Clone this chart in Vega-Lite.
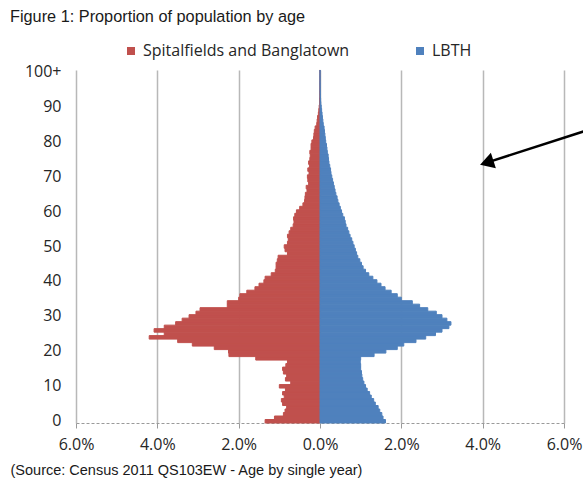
{
  "$schema": "https://vega.github.io/schema/vega-lite/v6.json",
  "width": 488,
  "height": 353,
  "autosize": {"type": "none"},
  "padding": {"left": 76, "top": 70, "right": 19, "bottom": 64},
  "background": "white",
  "title": {
    "text": "Figure 1: Proportion of population by age",
    "anchor": "start",
    "frame": "group",
    "dx": -66,
    "dy": -14,
    "font": "Liberation Sans",
    "fontSize": 16.3,
    "fontWeight": "normal",
    "color": "#1a1a1a"
  },
  "config": {"view": {"stroke": null}},
  "datasets": {
    "pyr": [
      {"age":0,"area":"Spitalfields and Banglatown","pct":-1.35},{"age":1,"area":"Spitalfields and Banglatown","pct":-1.12},{"age":2,"area":"Spitalfields and Banglatown","pct":-0.90},{"age":3,"area":"Spitalfields and Banglatown","pct":-0.86},{"age":4,"area":"Spitalfields and Banglatown","pct":-0.82},{"age":5,"area":"Spitalfields and Banglatown","pct":-0.92},{"age":6,"area":"Spitalfields and Banglatown","pct":-0.95},{"age":7,"area":"Spitalfields and Banglatown","pct":-0.88},{"age":8,"area":"Spitalfields and Banglatown","pct":-0.92},{"age":9,"area":"Spitalfields and Banglatown","pct":-0.85},
      {"age":10,"area":"Spitalfields and Banglatown","pct":-1.00},{"age":11,"area":"Spitalfields and Banglatown","pct":-0.72},{"age":12,"area":"Spitalfields and Banglatown","pct":-0.85},{"age":13,"area":"Spitalfields and Banglatown","pct":-0.82},{"age":14,"area":"Spitalfields and Banglatown","pct":-0.90},{"age":15,"area":"Spitalfields and Banglatown","pct":-0.92},{"age":16,"area":"Spitalfields and Banglatown","pct":-0.84},{"age":17,"area":"Spitalfields and Banglatown","pct":-0.80},{"age":18,"area":"Spitalfields and Banglatown","pct":-1.58},{"age":19,"area":"Spitalfields and Banglatown","pct":-2.24},
      {"age":20,"area":"Spitalfields and Banglatown","pct":-2.25},{"age":21,"area":"Spitalfields and Banglatown","pct":-2.60},{"age":22,"area":"Spitalfields and Banglatown","pct":-3.14},{"age":23,"area":"Spitalfields and Banglatown","pct":-3.50},{"age":24,"area":"Spitalfields and Banglatown","pct":-4.20},{"age":25,"area":"Spitalfields and Banglatown","pct":-3.83},{"age":26,"area":"Spitalfields and Banglatown","pct":-4.08},{"age":27,"area":"Spitalfields and Banglatown","pct":-3.83},{"age":28,"area":"Spitalfields and Banglatown","pct":-3.55},{"age":29,"area":"Spitalfields and Banglatown","pct":-3.39},
      {"age":30,"area":"Spitalfields and Banglatown","pct":-3.22},{"age":31,"area":"Spitalfields and Banglatown","pct":-3.05},{"age":32,"area":"Spitalfields and Banglatown","pct":-2.95},{"age":33,"area":"Spitalfields and Banglatown","pct":-2.28},{"age":34,"area":"Spitalfields and Banglatown","pct":-2.28},{"age":35,"area":"Spitalfields and Banglatown","pct":-2.00},{"age":36,"area":"Spitalfields and Banglatown","pct":-1.97},{"age":37,"area":"Spitalfields and Banglatown","pct":-1.80},{"age":38,"area":"Spitalfields and Banglatown","pct":-1.60},{"age":39,"area":"Spitalfields and Banglatown","pct":-1.50},
      {"age":40,"area":"Spitalfields and Banglatown","pct":-1.38},{"age":41,"area":"Spitalfields and Banglatown","pct":-1.35},{"age":42,"area":"Spitalfields and Banglatown","pct":-1.20},{"age":43,"area":"Spitalfields and Banglatown","pct":-1.10},{"age":44,"area":"Spitalfields and Banglatown","pct":-1.08},{"age":45,"area":"Spitalfields and Banglatown","pct":-1.08},{"age":46,"area":"Spitalfields and Banglatown","pct":-1.05},{"age":47,"area":"Spitalfields and Banglatown","pct":-1.03},{"age":48,"area":"Spitalfields and Banglatown","pct":-0.80},{"age":49,"area":"Spitalfields and Banglatown","pct":-0.86},
      {"age":50,"area":"Spitalfields and Banglatown","pct":-0.88},{"age":51,"area":"Spitalfields and Banglatown","pct":-0.80},{"age":52,"area":"Spitalfields and Banglatown","pct":-0.78},{"age":53,"area":"Spitalfields and Banglatown","pct":-0.80},{"age":54,"area":"Spitalfields and Banglatown","pct":-0.76},{"age":55,"area":"Spitalfields and Banglatown","pct":-0.72},{"age":56,"area":"Spitalfields and Banglatown","pct":-0.66},{"age":57,"area":"Spitalfields and Banglatown","pct":-0.64},{"age":58,"area":"Spitalfields and Banglatown","pct":-0.65},{"age":59,"area":"Spitalfields and Banglatown","pct":-0.62},
      {"age":60,"area":"Spitalfields and Banglatown","pct":-0.58},{"age":61,"area":"Spitalfields and Banglatown","pct":-0.50},{"age":62,"area":"Spitalfields and Banglatown","pct":-0.42},{"age":63,"area":"Spitalfields and Banglatown","pct":-0.38},{"age":64,"area":"Spitalfields and Banglatown","pct":-0.37},{"age":65,"area":"Spitalfields and Banglatown","pct":-0.36},{"age":66,"area":"Spitalfields and Banglatown","pct":-0.32},{"age":67,"area":"Spitalfields and Banglatown","pct":-0.34},{"age":68,"area":"Spitalfields and Banglatown","pct":-0.28},{"age":69,"area":"Spitalfields and Banglatown","pct":-0.30},
      {"age":70,"area":"Spitalfields and Banglatown","pct":-0.31},{"age":71,"area":"Spitalfields and Banglatown","pct":-0.27},{"age":72,"area":"Spitalfields and Banglatown","pct":-0.30},{"age":73,"area":"Spitalfields and Banglatown","pct":-0.26},{"age":74,"area":"Spitalfields and Banglatown","pct":-0.28},{"age":75,"area":"Spitalfields and Banglatown","pct":-0.25},{"age":76,"area":"Spitalfields and Banglatown","pct":-0.24},{"age":77,"area":"Spitalfields and Banglatown","pct":-0.25},{"age":78,"area":"Spitalfields and Banglatown","pct":-0.22},{"age":79,"area":"Spitalfields and Banglatown","pct":-0.22},
      {"age":80,"area":"Spitalfields and Banglatown","pct":-0.20},{"age":81,"area":"Spitalfields and Banglatown","pct":-0.16},{"age":82,"area":"Spitalfields and Banglatown","pct":-0.15},{"age":83,"area":"Spitalfields and Banglatown","pct":-0.14},{"age":84,"area":"Spitalfields and Banglatown","pct":-0.12},{"age":85,"area":"Spitalfields and Banglatown","pct":-0.08},{"age":86,"area":"Spitalfields and Banglatown","pct":-0.07},{"age":87,"area":"Spitalfields and Banglatown","pct":-0.06},{"age":88,"area":"Spitalfields and Banglatown","pct":-0.04},{"age":89,"area":"Spitalfields and Banglatown","pct":-0.03},
      {"age":90,"area":"Spitalfields and Banglatown","pct":-0.02},{"age":91,"area":"Spitalfields and Banglatown","pct":-0.01},{"age":92,"area":"Spitalfields and Banglatown","pct":-0.01},{"age":93,"area":"Spitalfields and Banglatown","pct":-0.005},{"age":94,"area":"Spitalfields and Banglatown","pct":-0.005},{"age":95,"area":"Spitalfields and Banglatown","pct":-0.003},{"age":96,"area":"Spitalfields and Banglatown","pct":-0.002},{"age":97,"area":"Spitalfields and Banglatown","pct":-0.002},{"age":98,"area":"Spitalfields and Banglatown","pct":-0.001},{"age":99,"area":"Spitalfields and Banglatown","pct":-0.001},{"age":100,"area":"Spitalfields and Banglatown","pct":-0.002},
      {"age":0,"area":"LBTH","pct":1.61},{"age":1,"area":"LBTH","pct":1.55},{"age":2,"area":"LBTH","pct":1.52},{"age":3,"area":"LBTH","pct":1.47},{"age":4,"area":"LBTH","pct":1.43},{"age":5,"area":"LBTH","pct":1.36},{"age":6,"area":"LBTH","pct":1.32},{"age":7,"area":"LBTH","pct":1.26},{"age":8,"area":"LBTH","pct":1.22},{"age":9,"area":"LBTH","pct":1.16},
      {"age":10,"area":"LBTH","pct":1.12},{"age":11,"area":"LBTH","pct":1.08},{"age":12,"area":"LBTH","pct":1.05},{"age":13,"area":"LBTH","pct":1.03},{"age":14,"area":"LBTH","pct":1.02},{"age":15,"area":"LBTH","pct":1.00},{"age":16,"area":"LBTH","pct":1.00},{"age":17,"area":"LBTH","pct":0.99},{"age":18,"area":"LBTH","pct":1.00},{"age":19,"area":"LBTH","pct":1.33},
      {"age":20,"area":"LBTH","pct":1.62},{"age":21,"area":"LBTH","pct":1.90},{"age":22,"area":"LBTH","pct":2.06},{"age":23,"area":"LBTH","pct":2.36},{"age":24,"area":"LBTH","pct":2.60},{"age":25,"area":"LBTH","pct":2.84},{"age":26,"area":"LBTH","pct":3.00},{"age":27,"area":"LBTH","pct":3.17},{"age":28,"area":"LBTH","pct":3.22},{"age":29,"area":"LBTH","pct":3.12},
      {"age":30,"area":"LBTH","pct":3.00},{"age":31,"area":"LBTH","pct":2.86},{"age":32,"area":"LBTH","pct":2.65},{"age":33,"area":"LBTH","pct":2.45},{"age":34,"area":"LBTH","pct":2.27},{"age":35,"area":"LBTH","pct":2.00},{"age":36,"area":"LBTH","pct":1.90},{"age":37,"area":"LBTH","pct":1.75},{"age":38,"area":"LBTH","pct":1.60},{"age":39,"area":"LBTH","pct":1.50},
      {"age":40,"area":"LBTH","pct":1.40},{"age":41,"area":"LBTH","pct":1.30},{"age":42,"area":"LBTH","pct":1.20},{"age":43,"area":"LBTH","pct":1.12},{"age":44,"area":"LBTH","pct":1.06},{"age":45,"area":"LBTH","pct":1.02},{"age":46,"area":"LBTH","pct":0.98},{"age":47,"area":"LBTH","pct":0.93},{"age":48,"area":"LBTH","pct":0.90},{"age":49,"area":"LBTH","pct":0.87},
      {"age":50,"area":"LBTH","pct":0.84},{"age":51,"area":"LBTH","pct":0.81},{"age":52,"area":"LBTH","pct":0.78},{"age":53,"area":"LBTH","pct":0.74},{"age":54,"area":"LBTH","pct":0.71},{"age":55,"area":"LBTH","pct":0.68},{"age":56,"area":"LBTH","pct":0.64},{"age":57,"area":"LBTH","pct":0.62},{"age":58,"area":"LBTH","pct":0.60},{"age":59,"area":"LBTH","pct":0.56},
      {"age":60,"area":"LBTH","pct":0.53},{"age":61,"area":"LBTH","pct":0.50},{"age":62,"area":"LBTH","pct":0.47},{"age":63,"area":"LBTH","pct":0.44},{"age":64,"area":"LBTH","pct":0.42},{"age":65,"area":"LBTH","pct":0.39},{"age":66,"area":"LBTH","pct":0.37},{"age":67,"area":"LBTH","pct":0.35},{"age":68,"area":"LBTH","pct":0.33},{"age":69,"area":"LBTH","pct":0.31},
      {"age":70,"area":"LBTH","pct":0.29},{"age":71,"area":"LBTH","pct":0.27},{"age":72,"area":"LBTH","pct":0.26},{"age":73,"area":"LBTH","pct":0.24},{"age":74,"area":"LBTH","pct":0.22},{"age":75,"area":"LBTH","pct":0.21},{"age":76,"area":"LBTH","pct":0.20},{"age":77,"area":"LBTH","pct":0.18},{"age":78,"area":"LBTH","pct":0.17},{"age":79,"area":"LBTH","pct":0.16},
      {"age":80,"area":"LBTH","pct":0.14},{"age":81,"area":"LBTH","pct":0.13},{"age":82,"area":"LBTH","pct":0.12},{"age":83,"area":"LBTH","pct":0.11},{"age":84,"area":"LBTH","pct":0.10},{"age":85,"area":"LBTH","pct":0.08},{"age":86,"area":"LBTH","pct":0.07},{"age":87,"area":"LBTH","pct":0.06},{"age":88,"area":"LBTH","pct":0.05},{"age":89,"area":"LBTH","pct":0.04},
      {"age":90,"area":"LBTH","pct":0.03},{"age":91,"area":"LBTH","pct":0.02},{"age":92,"area":"LBTH","pct":0.015},{"age":93,"area":"LBTH","pct":0.01},{"age":94,"area":"LBTH","pct":0.008},{"age":95,"area":"LBTH","pct":0.005},{"age":96,"area":"LBTH","pct":0.004},{"age":97,"area":"LBTH","pct":0.003},{"age":98,"area":"LBTH","pct":0.002},{"age":99,"area":"LBTH","pct":0.001},{"age":100,"area":"LBTH","pct":0.002}
    ],
    "arrow": [{"age": 83, "age2": 74, "x": 6.5, "x2": 4.1}],
    "head": [{"age": 74, "x": 4.1}]
  },
  "layer": [
    {
      "data": {"name": "pyr"},
      "mark": {"type": "bar", "strokeWidth": 1},
      "encoding": {
        "y": {
          "field": "age",
          "type": "ordinal",
          "sort": "descending",
          "scale": {"paddingInner": 0, "paddingOuter": 0},
          "axis": {
            "values": [0, 10, 20, 30, 40, 50, 60, 70, 80, 90, 100],
            "labelExpr": "datum.value == 100 ? '100+' : datum.label",
            "ticks": false,
            "domain": false,
            "grid": false,
            "labelPadding": 15,
            "labelFont": "Open Sans",
            "labelFontSize": 16,
            "labelColor": "#262626",
            "title": null
          }
        },
        "x": {
          "field": "pct",
          "type": "quantitative",
          "stack": null,
          "scale": {"domain": [-6, 6], "nice": false, "zero": false},
          "axis": {
            "values": [-6, -4, -2, 0, 2, 4, 6],
            "labelExpr": "format(abs(datum.value), '.1f') + '%'",
            "labelFlush": false,
            "labelOverlap": false,
            "grid": true,
            "gridColor": "#B8B8B8",
            "gridWidth": 1.5,
            "domainColor": "#9A9A9A",
            "domainDash": [3, 2],
            "tickColor": "#9A9A9A",
            "tickSize": 5,
            "labelPadding": 8,
            "labelFont": "Open Sans",
            "labelFontSize": 16,
            "labelColor": "#262626",
            "title": "(Source: Census 2011 QS103EW - Age by single year)",
            "titleFont": "Liberation Sans",
            "titleFontSize": 14.5,
            "titleFontWeight": "normal",
            "titleColor": "#1a1a1a",
            "titleAlign": "left",
            "titleAnchor": "start",
            "titleBaseline": "alphabetic",
            "titleX": -66,
            "titleY": 51
          }
        },
        "color": {
          "field": "area",
          "type": "nominal",
          "scale": {"domain": ["Spitalfields and Banglatown", "LBTH"], "range": ["#C0504D", "#4F81BD"]},
          "legend": {
            "title": null,
            "orient": "none",
            "direction": "horizontal",
            "legendX": 47,
            "legendY": -27,
            "symbolType": "square",
            "symbolSize": 64,
            "symbolStrokeWidth": 0,
            "labelFont": "Open Sans",
            "labelFontSize": 16,
            "labelLimit": 400,
            "labelColor": "#262626",
            "labelOffset": 4,
            "columnPadding": 62
          }
        },
        "stroke": {
          "field": "area",
          "type": "nominal",
          "scale": {"domain": ["Spitalfields and Banglatown", "LBTH"], "range": ["#C0504D", "#4F81BD"]},
          "legend": null
        }
      }
    },
    {
      "data": {"name": "arrow"},
      "mark": {"type": "rule", "color": "black", "strokeWidth": 2.5},
      "encoding": {
        "y": {"field": "age", "type": "ordinal", "sort": "descending"},
        "y2": {"field": "age2"},
        "x": {"field": "x", "type": "quantitative"},
        "x2": {"field": "x2"}
      }
    },
    {
      "data": {"name": "head"},
      "mark": {"type": "point", "shape": "triangle-up", "filled": true, "color": "black", "opacity": 1, "size": 260, "angle": 252},
      "encoding": {
        "y": {"field": "age", "type": "ordinal", "sort": "descending"},
        "x": {"field": "x", "type": "quantitative"}
      }
    }
  ]
}
